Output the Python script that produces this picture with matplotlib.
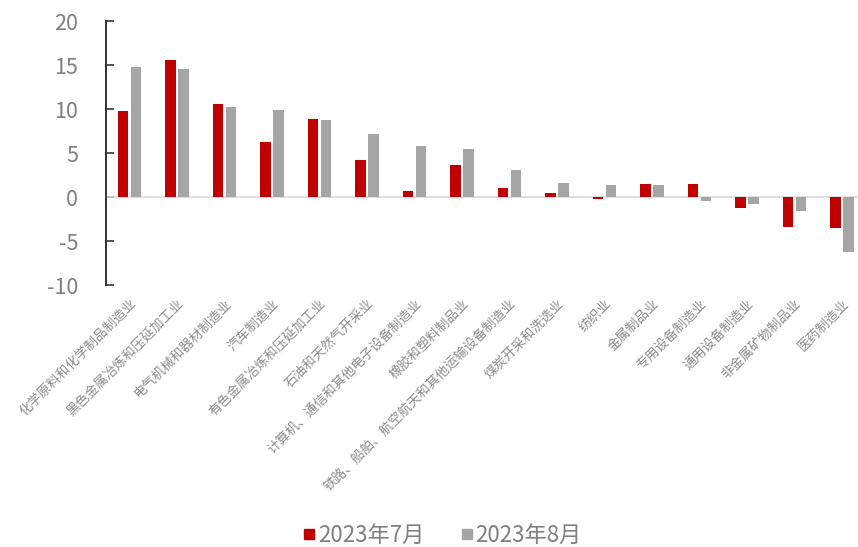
import matplotlib
matplotlib.use("Agg")
import numpy as np
from matplotlib import pyplot as plt
from matplotlib.lines import Line2D

plt.rcParams["font.family"] = ["Noto Sans CJK SC", "DejaVu Sans"]

categories = [
    "化学原料和化学制品制造业",
    "黑色金属冶炼和压延加工业",
    "电气机械和器材制造业",
    "汽车制造业",
    "有色金属冶炼和压延加工业",
    "石油和天然气开采业",
    "计算机、通信和其他电子设备制造业",
    "橡胶和塑料制品业",
    "铁路、船舶、航空航天和其他运输设备制造业",
    "煤炭开采和洗选业",
    "纺织业",
    "金属制品业",
    "专用设备制造业",
    "通用设备制造业",
    "非金属矿物制品业",
    "医药制造业",
]
jul_2023 = [9.8, 15.6, 10.6, 6.2, 8.9, 4.2, 0.7, 3.6, 1.0, 0.4, -0.2, 1.5, 1.5, -1.3, -3.4, -3.5]
aug_2023 = [14.8, 14.5, 10.2, 9.9, 8.8, 7.2, 5.8, 5.4, 3.1, 1.6, 1.4, 1.4, -0.45, -0.75, -1.6, -6.2]
series_names = ["2023年7月", "2023年8月"]
yticks = [-10, -5, 0, 5, 10, 15, 20]

RED = "#C00000"
GRAY = "#A5A5A5"
LABEL = "#7F7F7F"

fig = plt.figure(figsize=(8.58, 5.47), dpi=100)
ax = fig.add_axes([106 / 858, 1 - 285 / 547, 760 / 858, 264 / 547])

x = np.arange(len(categories))
w = 0.22
ax.bar(x - 0.145, jul_2023, width=w, color=RED, zorder=3)
ax.bar(x + 0.13, aug_2023, width=w, color=GRAY, zorder=3)

ax.axhline(0, color="#D9D9D9", lw=1.2, zorder=2)

ax.set_xlim(-0.5, len(categories) - 0.5)
ax.set_ylim(-10, 20)
ax.set_yticks(yticks)
ax.set_yticklabels([str(v) for v in yticks])
ax.tick_params(axis="y", direction="in", length=6, width=1.2, color="#333333",
               labelsize=15.5, labelcolor=LABEL, pad=20)

ax.set_xticks([])
for i, name in enumerate(categories):
    ax.annotate(name, xy=(i + 0.1, -10), xycoords="data",
                xytext=(0, -12), textcoords="offset points",
                rotation=45, rotation_mode="anchor", ha="right", va="center",
                fontsize=9.5, color="#8C8C8C")

for side in ["top", "right", "bottom"]:
    ax.spines[side].set_visible(False)
ax.spines["left"].set_color("#333333")
ax.spines["left"].set_linewidth(1.4)

handles = [Line2D([], [], ls="none", marker="s", markersize=7, color=c) for c in (RED, GRAY)]
fig.legend(handles, series_names, loc="center", bbox_to_anchor=(442 / 858, 1 - 535 / 547),
           ncol=2, frameon=False, fontsize=16, labelcolor=LABEL,
           handlelength=0.6, handletextpad=0.1, columnspacing=1.6)

fig.savefig("out.png", dpi=100)
